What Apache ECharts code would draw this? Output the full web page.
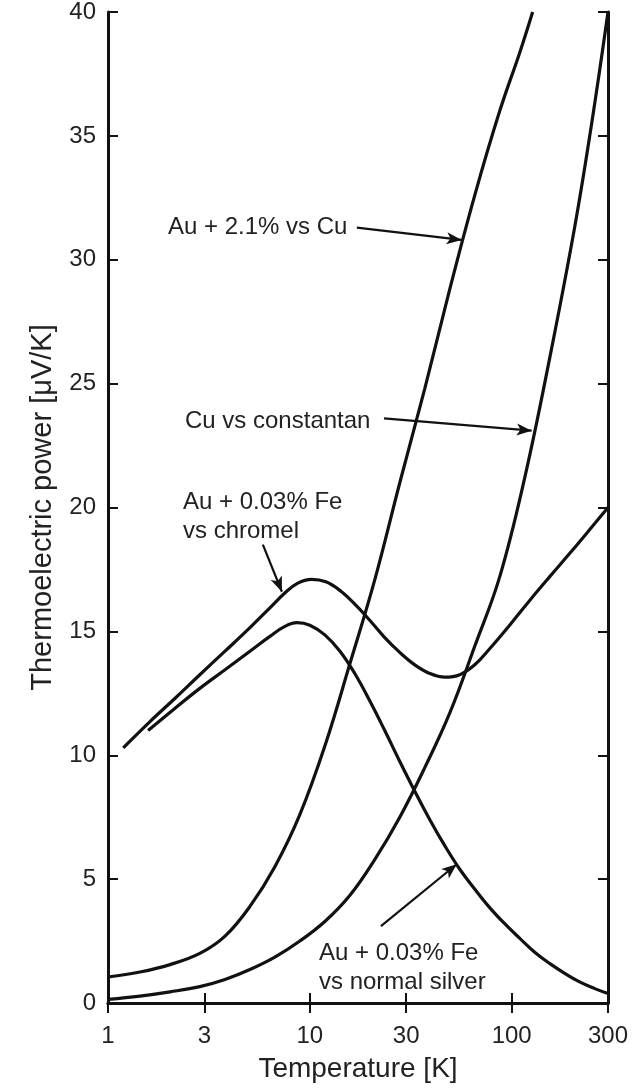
<!DOCTYPE html>
<html>
<head>
<meta charset="utf-8">
<script src="https://cdn.jsdelivr.net/npm/echarts@6/dist/echarts.min.js"></script>
<style>
  html, body { margin: 0; padding: 0; background: #ffffff; }
  #chart { width: 642px; height: 1088px; }
</style>
</head>
<body>
<div id="chart"></div>
<script>
// Thermoelectric power of common low-temperature thermocouple pairs vs temperature.
const FONT = '"Liberation Sans", Arial, Helvetica, sans-serif';
const INK = '#111111';
const TEXT = '#222222';

// Temperature ticks on the logarithmic axis [K]
const tempTicks = [1, 3, 10, 30, 100, 300];

// Au + 2.1% vs Cu
const auCuT = [1, 1.44, 2.03, 2.85, 3.8, 5.05, 6.71, 8.92, 11.9, 15.8, 21.0, 27.9, 37.1, 49.3, 65.6, 87.2, 110, 127];
const auCuV = [1.05, 1.25, 1.55, 2.0, 2.7, 3.9, 5.5, 7.6, 10.4, 13.7, 17.1, 21.0, 24.8, 28.8, 32.6, 36.0, 38.4, 40.0];

// Cu vs constantan
const cuConT = [1, 1.44, 2.03, 2.85, 3.8, 5.05, 6.71, 8.92, 11.9, 15.8, 21.0, 27.9, 37.1, 49.3, 65.6, 87.2, 116, 154, 205, 249, 300];
const cuConV = [0.15, 0.28, 0.45, 0.66, 0.95, 1.35, 1.85, 2.5, 3.3, 4.35, 5.8, 7.5, 9.5, 11.7, 14.4, 17.2, 21.2, 26.0, 31.3, 35.5, 40.0];

// Au + 0.03% Fe vs chromel
const auFeCrT = [1.19, 1.61, 2.15, 2.85, 3.8, 5.05, 6.34, 7.52, 8.72, 10.2, 12.0, 14.1, 16.7, 19.8, 23.5, 27.9, 33.1, 39.3, 46.6, 55.3, 65.6, 77.8, 97.7, 122.8, 154, 194, 243, 300];
const auFeCrV = [10.3, 11.35, 12.3, 13.25, 14.2, 15.15, 15.95, 16.55, 16.95, 17.1, 17.0, 16.65, 16.1, 15.45, 14.75, 14.15, 13.65, 13.3, 13.15, 13.25, 13.65, 14.3, 15.25, 16.25, 17.2, 18.15, 19.1, 20.0];

// Au + 0.03% Fe vs normal silver
const auFeAgT = [1.58, 2.15, 2.85, 3.8, 5.05, 6.34, 7.52, 8.62, 10.0, 11.9, 14.1, 16.7, 19.8, 23.5, 27.9, 33.1, 39.3, 46.6, 55.3, 65.6, 77.8, 92.3, 110, 130, 154, 183, 217, 258, 300];
const auFeAgV = [11.0, 11.9, 12.7, 13.45, 14.2, 14.8, 15.2, 15.35, 15.25, 14.85, 14.2, 13.3, 12.2, 11.0, 9.75, 8.55, 7.4, 6.35, 5.4, 4.6, 3.85, 3.2, 2.6, 2.05, 1.6, 1.2, 0.85, 0.58, 0.38];

function pairs(xs, ys) {
  return xs.map((x, i) => [x, ys[i]]);
}

// Leader arrows from each caption to its curve, in data coordinates [T, S]
const arrowAuCu = [[17.1, 31.3], [56.5, 30.8]];
const arrowCuCon = [[23.3, 23.6], [125.6, 23.1]];
const arrowChromel = [[5.85, 18.5], [7.27, 16.6]];
const arrowSilver = [[22.5, 3.1], [53.4, 5.6]];

function arrow(seg) {
  return {
    silent: true,
    symbol: ['none', 'arrow'],
    symbolSize: [9, 15],
    label: { show: false },
    emphasis: { disabled: true },
    lineStyle: { color: INK, width: 2.2, type: 'solid' },
    data: [[{ coord: seg[0] }, { coord: seg[1] }]]
  };
}

function curve(name, xs, ys, seg) {
  return {
    name: name,
    type: 'line',
    data: pairs(xs, ys),
    showSymbol: false,
    smooth: 0.4,
    clip: true,
    lineStyle: { color: INK, width: 3.2 },
    emphasis: { disabled: true },
    markLine: arrow(seg)
  };
}

const tickStyle = { inside: true, length: 10, lineStyle: { color: INK, width: 2 } };
const lineStyle = { lineStyle: { color: INK, width: 3 } };
const noteFont = '24px ' + FONT;

const chart = echarts.init(document.getElementById('chart'), null, { renderer: 'canvas' });

chart.setOption({
  animation: false,
  backgroundColor: '#ffffff',
  textStyle: { fontFamily: FONT },
  grid: { left: 108, right: 34, top: 11, bottom: 77 },
  xAxis: [
    {
      type: 'log',
      logBase: 10,
      min: 1,
      max: 300,
      position: 'bottom',
      axisLine: Object.assign({ show: true }, lineStyle),
      axisTick: Object.assign({ customValues: tempTicks }, tickStyle),
      minorTick: { show: false },
      splitLine: { show: false },
      axisLabel: {
        customValues: tempTicks,
        fontFamily: FONT, fontSize: 24, color: TEXT, margin: 21,
        formatter: v => String(Math.round(v))
      },
      name: 'Temperature [K]',
      nameLocation: 'middle',
      nameGap: 52,
      nameTextStyle: { fontFamily: FONT, fontSize: 28, color: TEXT }
    },
    {
      type: 'log',
      logBase: 10,
      min: 1,
      max: 300,
      position: 'top',
      axisLine: Object.assign({ show: true }, lineStyle),
      axisTick: Object.assign({ customValues: tempTicks }, tickStyle),
      minorTick: { show: false },
      splitLine: { show: false },
      axisLabel: { show: false }
    }
  ],
  yAxis: [
    {
      type: 'value',
      min: 0,
      max: 40,
      interval: 5,
      position: 'left',
      axisLine: Object.assign({ show: true }, lineStyle),
      axisTick: tickStyle,
      splitLine: { show: false },
      axisLabel: { fontFamily: FONT, fontSize: 24, color: TEXT, margin: 12 },
      name: 'Thermoelectric power [μV/K]',
      nameLocation: 'middle',
      nameGap: 51,
      nameTextStyle: { fontFamily: FONT, fontSize: 29, color: TEXT }
    },
    {
      type: 'value',
      min: 0,
      max: 40,
      interval: 5,
      position: 'right',
      axisLine: Object.assign({ show: true }, lineStyle),
      axisTick: tickStyle,
      splitLine: { show: false },
      axisLabel: { show: false }
    }
  ],
  series: [
    curve('Au + 2.1% vs Cu', auCuT, auCuV, arrowAuCu),
    curve('Cu vs constantan', cuConT, cuConV, arrowCuCon),
    curve('Au + 0.03% Fe vs chromel', auFeCrT, auFeCrV, arrowChromel),
    curve('Au + 0.03% Fe vs normal silver', auFeAgT, auFeAgV, arrowSilver)
  ],
  graphic: [
    { type: 'text', left: 168, top: 215, silent: true,
      style: { text: 'Au + 2.1% vs Cu', font: noteFont, fill: TEXT } },
    { type: 'text', left: 185, top: 409, silent: true,
      style: { text: 'Cu vs constantan', font: noteFont, fill: TEXT } },
    { type: 'text', left: 183, top: 488, silent: true,
      style: { text: 'Au + 0.03% Fe\nvs chromel', font: noteFont, fill: TEXT, lineHeight: 29 } },
    { type: 'text', left: 319, top: 939, silent: true,
      style: { text: 'Au + 0.03% Fe\nvs normal silver', font: noteFont, fill: TEXT, lineHeight: 29 } }
  ]
});
</script>
</body>
</html>
